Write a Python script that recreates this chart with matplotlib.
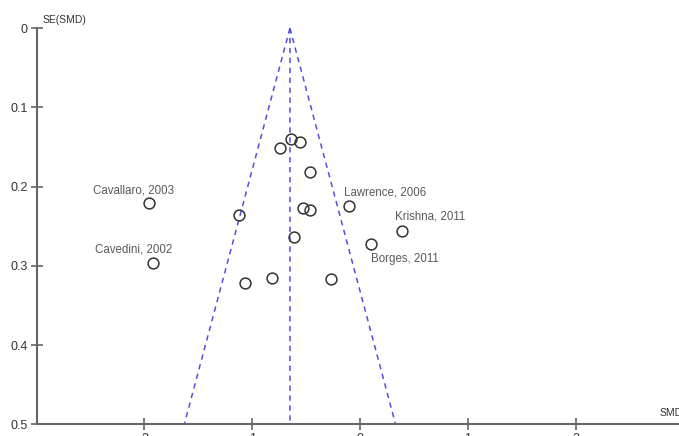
import matplotlib
matplotlib.use('Agg')
import matplotlib.pyplot as plt
import matplotlib.transforms as mtransforms
import numpy as np

# study estimates
smd = [-0.64, -0.56, -0.74, -0.46, -1.96, -1.12, -0.53, -0.46, -0.10,
       -0.61, 0.39, 0.10, -1.92, -1.07, -0.82, -0.27]
se = [0.140, 0.143, 0.151, 0.182, 0.221, 0.236, 0.227, 0.230, 0.225,
      0.263, 0.256, 0.272, 0.296, 0.321, 0.315, 0.317]
labels = ['', '', '', '', 'Cavallaro, 2003', '', '', '', 'Lawrence, 2006',
          '', 'Krishna, 2011', 'Borges, 2011', 'Cavedini, 2002', '', '', '']
# label offsets (points) relative to marker
label_offsets = {'Cavallaro, 2003': (-11, 5, 'center'),
                 'Cavedini, 2002': (-14, 5, 'center'),
                 'Lawrence, 2006': (-4, 6, 'left'),
                 'Krishna, 2011': (-5, 6, 'left'),
                 'Borges, 2011': (0, -15, 'left')}
pooled = -0.65
se_max = 0.5
xticks = [-2, -1, 0, 1, 2]
yticks = [0, 0.1, 0.2, 0.3, 0.4, 0.5]

plt.rcParams['font.family'] = ['Liberation Sans', 'DejaVu Sans']

fig = plt.figure(figsize=(6.79, 4.36), dpi=100)
ax = fig.add_axes([36.6/679, 11.7/436, 646.8/679, 396/436])

# funnel
line_col = '#5050dc'
for x_end in [pooled - 1.96*se_max, pooled + 1.96*se_max, pooled]:
    ax.plot([pooled, x_end], [0, se_max], ls='--', color=line_col, lw=1.1, dashes=(3.5, 3))

ax.plot(smd, se, 'o', mfc='none', mec='#333333', mew=1.1, ms=7.8, ls='none')

for x, y, lab in zip(smd, se, labels):
    if lab:
        dx, dy, ha = label_offsets[lab]
        ax.annotate(lab, (x, y), xytext=(dx, dy), textcoords='offset points',
                    ha=ha, va='bottom', fontsize=8.3, color='#5a5a5a')

ax.set_xlim(-3, 3)
ax.set_ylim(0.5, 0)
ax.set_xticks(xticks)
ax.set_xticklabels([str(t) for t in xticks])
ax.set_yticks(yticks)
ax.set_yticklabels(['0', '0.1', '0.2', '0.3', '0.4', '0.5'])

for s in ['top', 'right']:
    ax.spines[s].set_visible(False)
for s in ['left', 'bottom']:
    ax.spines[s].set_color('#666666')
    ax.spines[s].set_linewidth(1.5)
ax.tick_params(direction='inout', length=9, width=1.2, color='#666666',
               labelsize=9, labelcolor='#333333', pad=2)

ax.text(0.009, 1.008, 'SE(SMD)', transform=ax.transAxes, fontsize=7.5,
        color='#333333', ha='left', va='bottom')
smd_tr = mtransforms.blended_transform_factory(fig.transFigure, ax.transData)
ax.text(660/679, 0.492, 'SMD', transform=smd_tr, fontsize=7.5,
        color='#333333', ha='left', va='bottom')

fig.savefig('out.png', dpi=100)
